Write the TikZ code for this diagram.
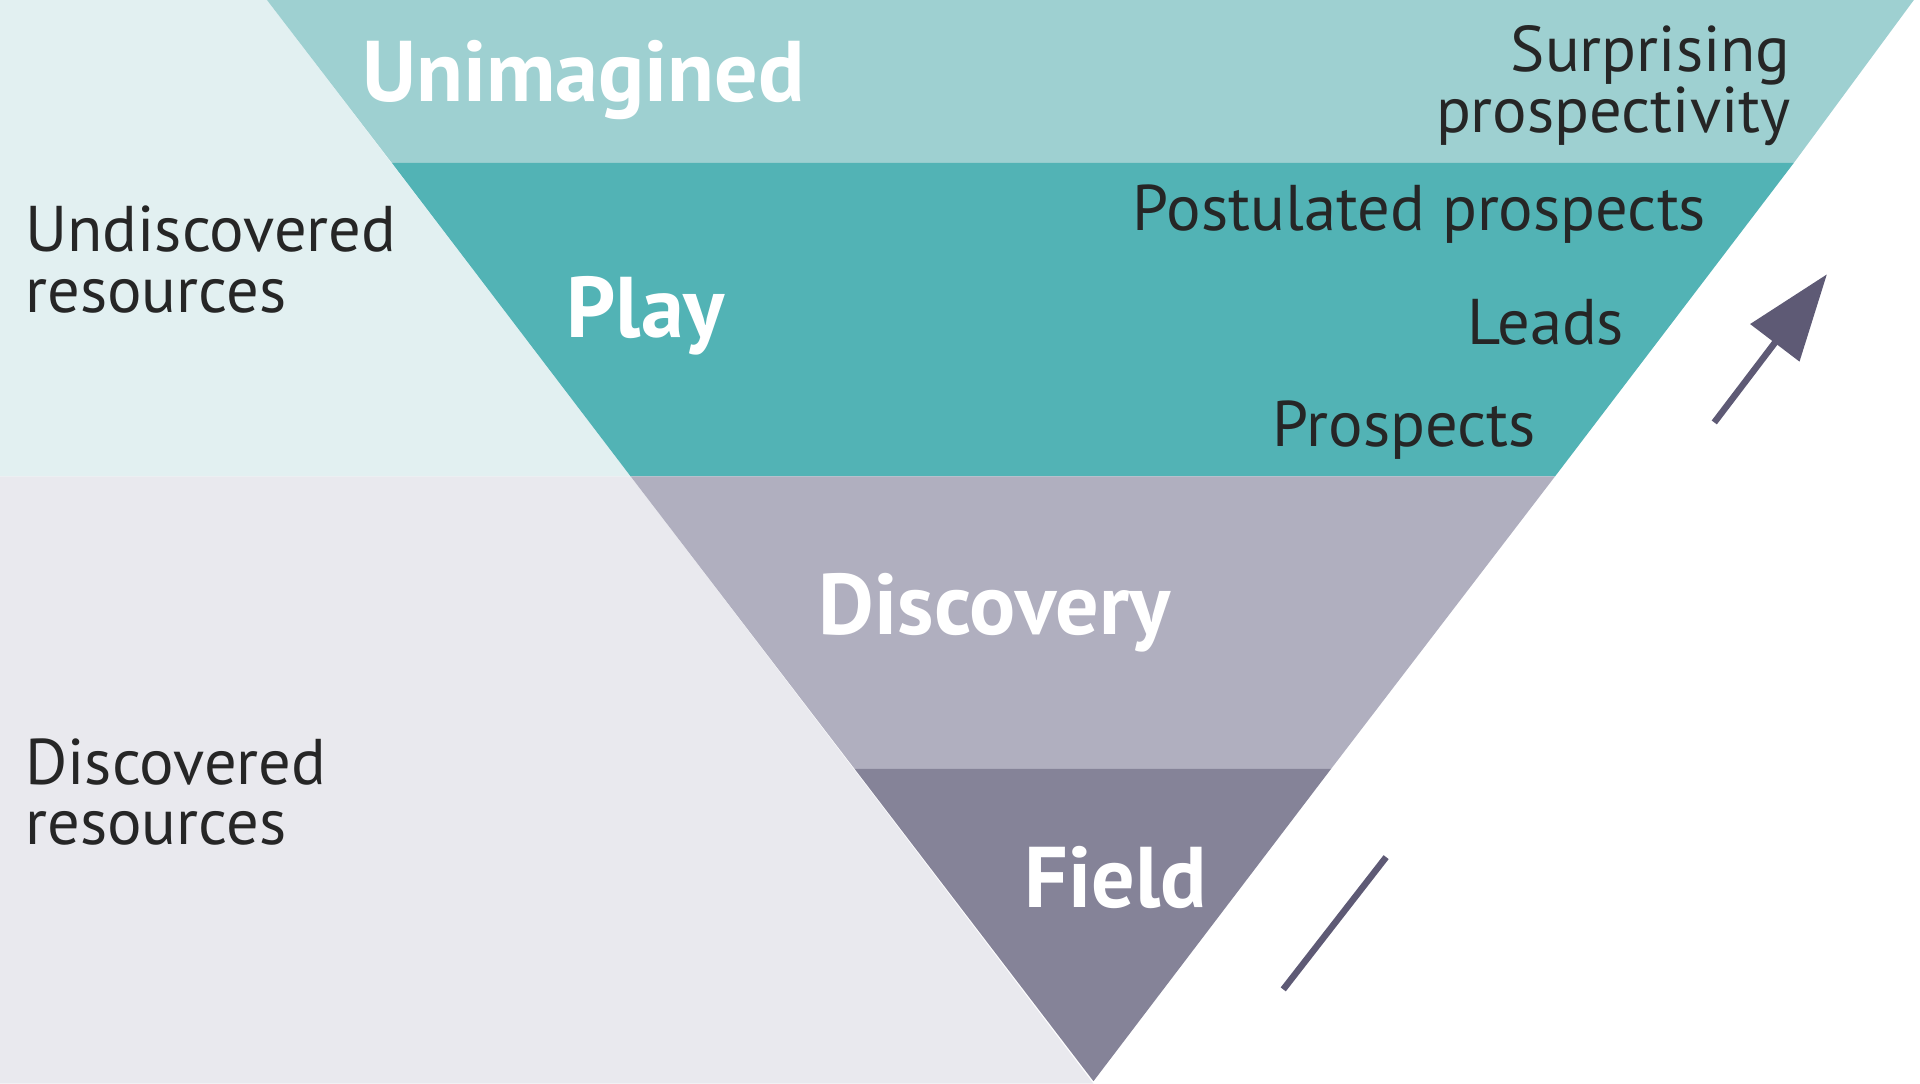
\documentclass[tikz,border=0pt]{standalone}
\usepackage{fontspec}
\setmainfont{PT Sans}
\usetikzlibrary{arrows.meta}
\definecolor{undisc}{HTML}{E2F0F1}
\definecolor{disc}{HTML}{E9E9EE}
\definecolor{unim}{HTML}{9ED0D1}
\definecolor{play}{HTML}{52B3B5}
\definecolor{discov}{HTML}{B0AFBF}
\definecolor{field}{HTML}{858398}
\definecolor{arr}{HTML}{5E5A75}
\tikzset{
  band/.style={font=\fontsize{20}{20}\selectfont\bfseries,text=white,inner sep=0pt},
  lab/.style={font=\fontsize{15}{14}\selectfont,text=black!85,inner sep=0pt,align=left},
  labr/.style={lab,align=right}
}
\begin{document}
\begin{tikzpicture}[x=0.01cm,y=-0.01cm]
  \useasboundingbox (0,0) rectangle (1568,885);
  % backgrounds
  \fill[undisc] (0,0) -- (218,0) -- (515,389) -- (0,389) -- cycle;
  \fill[disc] (0,389) -- (515,389) -- (893,885) -- (0,885) -- cycle;
  % bands of the triangle
  \fill[unim] (218,0) -- (1563,0) -- (1465,133) -- (320,133) -- cycle;
  \fill[play] (320,133) -- (1465,133) -- (1270,389) -- (515,389) -- cycle;
  \fill[discov] (515,389) -- (1270,389) -- (1087,628) -- (698,628) -- cycle;
  \fill[field] (698,628) -- (1087,628) -- (893,883) -- cycle;
  % labels
  \node[band,anchor=west] (unimagined) at (295,65) {Unimagined};
  \node[band,anchor=west] (playlab) at (462,258) {Play};
  \node[band,anchor=west] (discovery) at (668,500) {Discovery};
  \node[band,anchor=west] (fieldlab) at (836,717) {Field};
  \node[labr,anchor=east] (surprising) at (1463,70) {Surprising\\prospectivity};
  \node[lab,anchor=east] (postulated) at (1394,175) {Postulated prospects};
  \node[lab,anchor=east] (leads) at (1327,263) {Leads};
  \node[lab,anchor=east] (prospects) at (1255,351) {Prospects};
  \node[lab,anchor=west] (undiscovered) at (20,212) {Undiscovered\\resources};
  \node[lab,anchor=west] (discovered) at (20,647) {Discovered\\resources};
  % arrow
  \coordinate (a0) at (1048,808);
  \coordinate (a1) at (1132,700);
  \coordinate (b0) at (1400,345);
  \coordinate (b1) at (1492,224);
  \draw[arr,line width=1.5pt] (a0) -- (a1);
  \draw[arr,line width=1.5pt,-{Triangle[length=20pt,width=14pt]}] (b0) -- (b1);
\end{tikzpicture}
\end{document}
